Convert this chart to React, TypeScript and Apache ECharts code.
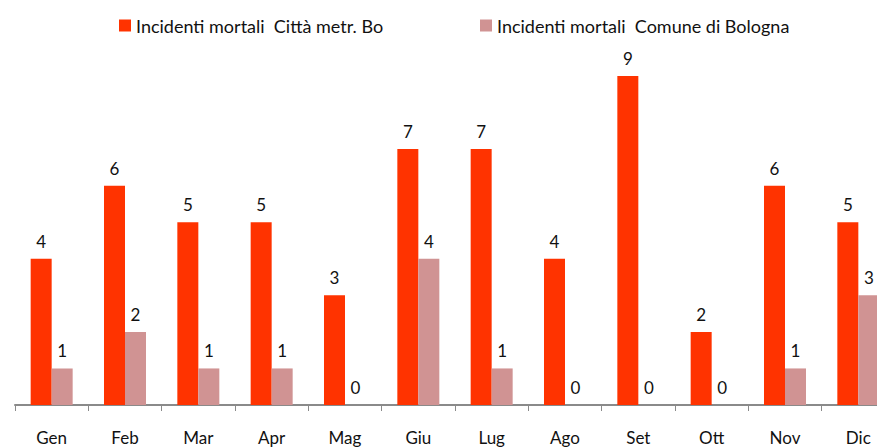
import React, { useEffect, useRef } from "react";
import * as echarts from "echarts";

const months = ["Gen", "Feb", "Mar", "Apr", "Mag", "Giu", "Lug", "Ago", "Set", "Ott", "Nov", "Dic"];
const cittaMetr = [4, 6, 5, 5, 3, 7, 7, 4, 9, 2, 6, 5];
const comuneBologna = [1, 2, 1, 1, 0, 4, 1, 0, 0, 0, 1, 3];
const seriesNames = ["Incidenti mortali  Città metr. Bo", "Incidenti mortali  Comune di Bologna"];

const FONT = "Lato, 'Open Sans', sans-serif";

export default function App() {
  const ref = useRef<HTMLDivElement>(null);
  useEffect(() => {
    if (!ref.current) return;
    const chart = echarts.init(ref.current, null, { renderer: "svg" });
    const label = {
      show: true,
      position: "top",
      distance: 9,
      fontSize: 17,
      fontFamily: FONT,
      color: "#111",
    };
    const legendText = { fontSize: 18, fontFamily: FONT, color: "#111" };
    chart.setOption({
      animation: false,
      backgroundColor: "#fff",
      textStyle: { fontFamily: FONT },
      legend: [
        {
          data: [seriesNames[0]],
          left: 119,
          top: 16.5,
          padding: 0,
          itemWidth: 12,
          itemHeight: 12,
          itemGap: 0,
          icon: "rect",
          textStyle: legendText,
        },
        {
          data: [seriesNames[1]],
          left: 480,
          top: 16.5,
          padding: 0,
          itemWidth: 12,
          itemHeight: 12,
          itemGap: 0,
          icon: "rect",
          textStyle: legendText,
        },
      ],
      grid: { left: 15, right: 0, top: 39.4, bottom: 43, containLabel: false },
      xAxis: {
        type: "category",
        data: months,
        axisLine: { lineStyle: { color: "#8a8a8a", width: 2 } },
        axisTick: { show: true, length: 6, lineStyle: { color: "#8a8a8a", width: 1 } },
        axisLabel: { fontSize: 17, fontFamily: FONT, color: "#111", margin: 24 },
      },
      yAxis: {
        type: "value",
        min: 0,
        max: 10,
        show: false,
        splitLine: { show: false },
      },
      series: [
        {
          name: seriesNames[0],
          type: "bar",
          data: cittaMetr,
          barWidth: 21,
          barGap: "0%",
          itemStyle: { color: "#FF3300" },
          label,
        },
        {
          name: seriesNames[1],
          type: "bar",
          data: comuneBologna,
          barWidth: 21,
          barGap: "0%",
          itemStyle: { color: "#D09393" },
          label,
        },
      ],
    });
    return () => chart.dispose();
  }, []);
  return (
    <div style={{ position: "absolute", left: 0, top: 0, width: 877, height: 448, overflow: "hidden" }}>
      <div ref={ref} style={{ width: 895, height: 448 }} />
    </div>
  );
}
